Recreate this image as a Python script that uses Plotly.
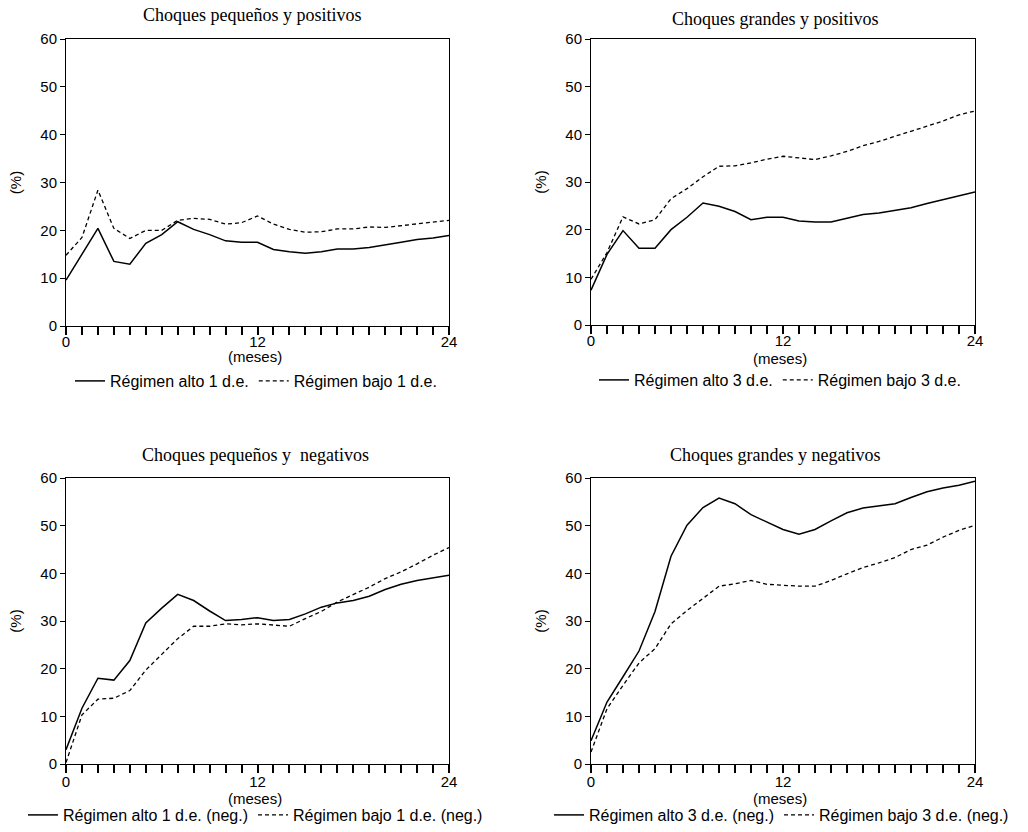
import plotly.graph_objects as go

months = list(range(25))

# Panel 1: Choques pequeños y positivos
p1_alto = [9.6, 15.0, 20.4, 13.5, 12.9, 17.3, 19.1, 21.8, 20.2, 19.1, 17.8, 17.5, 17.5,
           16.0, 15.5, 15.2, 15.5, 16.1, 16.1, 16.4, 16.9, 17.5, 18.1, 18.4, 18.9]
p1_bajo = [14.8, 18.5, 28.4, 20.4, 18.3, 20.0, 20.0, 22.1, 22.5, 22.3, 21.3, 21.6, 23.0,
           21.3, 20.2, 19.6, 19.7, 20.3, 20.3, 20.7, 20.6, 21.0, 21.4, 21.8, 22.1]

# Panel 2: Choques grandes y positivos
p2_alto = [7.3, 14.8, 19.8, 16.1, 16.1, 20.0, 22.6, 25.6, 24.9, 23.8, 22.1, 22.6, 22.6,
           21.8, 21.6, 21.6, 22.4, 23.2, 23.5, 24.1, 24.6, 25.5, 26.3, 27.2, 27.9]
p2_bajo = [9.6, 15.2, 22.7, 21.2, 22.1, 26.5, 28.6, 31.1, 33.3, 33.4, 34.0, 34.8, 35.4,
           35.1, 34.7, 35.5, 36.4, 37.6, 38.5, 39.6, 40.6, 41.7, 42.8, 44.1, 44.9]

# Panel 3: Choques pequeños y negativos
p3_alto = [3.0, 11.7, 18.0, 17.6, 21.7, 29.6, 32.7, 35.6, 34.3, 32.1, 30.1, 30.3, 30.7,
           30.1, 30.3, 31.5, 32.9, 33.8, 34.3, 35.2, 36.6, 37.7, 38.5, 39.1, 39.6]
p3_bajo = [0.3, 10.3, 13.6, 13.8, 15.4, 19.7, 23.0, 26.3, 28.9, 28.9, 29.4, 29.2, 29.4,
           29.2, 28.9, 30.5, 32.0, 34.0, 35.5, 37.1, 38.9, 40.3, 42.0, 43.8, 45.4]

# Panel 4: Choques grandes y negativos
p4_alto = [4.9, 13.0, 18.3, 23.7, 32.0, 43.6, 50.1, 53.8, 55.8, 54.6, 52.3, 50.8, 49.2,
           48.2, 49.2, 51.0, 52.7, 53.7, 54.1, 54.6, 55.9, 57.1, 57.9, 58.5, 59.3]
p4_bajo = [2.5, 11.6, 16.5, 21.2, 24.2, 29.4, 32.2, 34.7, 37.3, 37.8, 38.5, 37.7, 37.5,
           37.3, 37.3, 38.5, 39.9, 41.2, 42.2, 43.3, 45.0, 45.9, 47.6, 49.0, 50.1]

titles = ["Choques pequeños y positivos", "Choques grandes y positivos",
          "Choques pequeños y  negativos", "Choques grandes y negativos"]
names_alto = ["Régimen alto 1 d.e.", "Régimen alto 3 d.e.",
              "Régimen alto 1 d.e. (neg.)", "Régimen alto 3 d.e. (neg.)"]
names_bajo = ["Régimen bajo 1 d.e.", "Régimen bajo 3 d.e.",
              "Régimen bajo 1 d.e. (neg.)", "Régimen bajo 3 d.e. (neg.)"]
xtick_vals = [0, 12, 24]
ytick_vals = [0, 10, 20, 30, 40, 50, 60]
x_title = "(meses)"
y_title = "(%)"

W, H = 1028, 832
series = [(p1_alto, p1_bajo), (p2_alto, p2_bajo), (p3_alto, p3_bajo), (p4_alto, p4_bajo)]

# pixel layout of plot areas (left, right, top, bottom)
boxes = [(66, 449, 39, 326), (591, 975, 39, 325), (66, 449, 478, 764), (591, 975, 478, 764)]
title_pos = [(252, 15), (775, 19), (255, 455), (775, 455)]
meses_pos = [(255, 356), (780, 358), (255, 798), (780, 798)]
legend_pos = [(70, 381), (594, 380), (23, 815), (549, 815)]
label_shift = [-6, -6, -4, -4]

fig = go.Figure()
layout = dict(width=W, height=H,
              margin=dict(l=0, r=0, t=0, b=0, autoexpand=False),
              paper_bgcolor="white", plot_bgcolor="white", annotations=[])

for i, (alto, bajo) in enumerate(series):
    n = "" if i == 0 else str(i + 1)
    leg = "legend" + n
    fig.add_trace(go.Scatter(x=months, y=alto, mode="lines", name=names_alto[i],
                             line=dict(color="black", width=1.5),
                             xaxis="x" + n, yaxis="y" + n, legend=leg))
    fig.add_trace(go.Scatter(x=months, y=bajo, mode="lines", name=names_bajo[i],
                             line=dict(color="black", width=1.3, dash="4px,3px"),
                             xaxis="x" + n, yaxis="y" + n, legend=leg))
    l, r, t, b = boxes[i]
    layout["xaxis" + n] = dict(
        domain=[l / W, r / W], anchor="y" + n, range=[0, 24],
        tickmode="array", tickvals=xtick_vals, ticks="outside", ticklen=8,
        tickwidth=1.5, tickcolor="black", ticklabelstandoff=label_shift[i],
        minor=dict(dtick=1, tick0=0, ticks="outside", ticklen=8, tickwidth=1.5,
                   tickcolor="black", showgrid=False),
        showline=True, linecolor="black", linewidth=1, mirror=True,
        showgrid=False, zeroline=False, automargin=False,
        tickfont=dict(family="Arial", size=15, color="black"))
    layout["yaxis" + n] = dict(
        domain=[1 - b / H, 1 - t / H], anchor="x" + n, range=[0, 60],
        tickmode="array", tickvals=ytick_vals, ticks="outside", ticklen=5,
        tickwidth=1, tickcolor="black",
        showline=True, linecolor="black", linewidth=1, mirror=True,
        showgrid=False, zeroline=False, automargin=False,
        tickfont=dict(family="Arial", size=15, color="black"),
        title=dict(text=y_title, standoff=15,
                   font=dict(family="Arial", size=15, color="black")))
    lx, ly = legend_pos[i]
    layout[leg] = dict(orientation="h", x=lx / W, y=1 - ly / H, xanchor="left",
                       yanchor="middle", bgcolor="rgba(0,0,0,0)",
                       font=dict(family="Arial", size=16, color="black"),
                       itemwidth=30, tracegroupgap=0)
    tx, ty = title_pos[i]
    layout["annotations"].append(dict(
        text=titles[i], x=tx / W, y=1 - ty / H, xref="paper", yref="paper",
        xanchor="center", yanchor="middle", showarrow=False,
        font=dict(family="Times New Roman", size=18, color="black")))
    mx, my = meses_pos[i]
    layout["annotations"].append(dict(
        text=x_title, x=mx / W, y=1 - my / H, xref="paper", yref="paper",
        xanchor="center", yanchor="middle", showarrow=False,
        font=dict(family="Arial", size=15, color="black")))

fig.update_layout(**layout)
fig.write_html("out.html")
